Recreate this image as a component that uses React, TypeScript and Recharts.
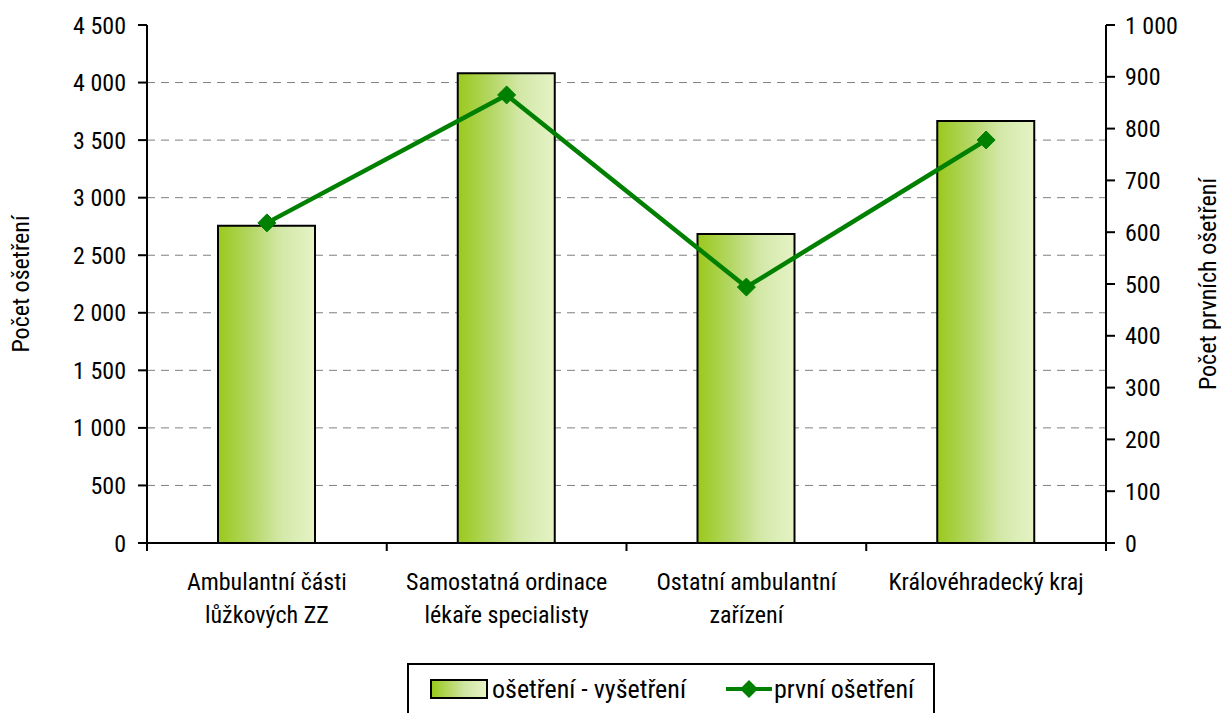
import React from "react";
import {
  Bar,
  CartesianGrid,
  ComposedChart,
  Legend,
  Line,
  XAxis,
  YAxis,
} from "recharts";

const categories = [
  "Ambulantní části\nlůžkových ZZ",
  "Samostatná ordinace\nlékaře specialisty",
  "Ostatní ambulantní\nzařízení",
  "Královéhradecký kraj",
];
const treatments = [2755, 4080, 2685, 3665];
const firstTreatments = [618, 865, 494, 778];
const leftTicks = [0, 500, 1000, 1500, 2000, 2500, 3000, 3500, 4000, 4500];
const rightTicks = [0, 100, 200, 300, 400, 500, 600, 700, 800, 900, 1000];

const data = categories.map((name, i) => ({
  name,
  treatments: treatments[i],
  first: firstTreatments[i],
}));

const FONT = "'Liberation Sans Narrow', 'Arial Narrow', 'Roboto Condensed', 'Liberation Sans', Arial, sans-serif";
const LINE_GREEN = "#008000";

const fmt = (v: number) => String(v).replace(/\B(?=(\d{3})+(?!\d))/g, " ");

function CategoryTick(props: any) {
  const { x, y, payload, index, visibleTicksCount } = props;
  const half = payload.offset ?? 0;
  const lines = String(payload.value).split("\n");
  return (
    <g>
      <line x1={x - half} x2={x - half} y1={y - 8} y2={y} stroke="#000" strokeWidth={2} />
      {index === visibleTicksCount - 1 && (
        <line x1={x + half} x2={x + half} y1={y - 8} y2={y} stroke="#000" strokeWidth={2} />
      )}
      {lines.map((l, i) => (
        <text key={i} x={x} y={y + 39 + i * 33} textAnchor="middle" fontSize={24} fill="#000" fontFamily={FONT}>
          {l}
        </text>
      ))}
    </g>
  );
}

function Diamond(props: any) {
  const { cx, cy } = props;
  if (cx == null || cy == null) return null;
  const r = 9;
  return (
    <path
      d={`M${cx},${cy - r}L${cx + r},${cy}L${cx},${cy + r}L${cx - r},${cy}Z`}
      fill={LINE_GREEN}
      stroke={LINE_GREEN}
    />
  );
}

function LegendBox() {
  return (
    <div
      style={{
        position: "absolute",
        left: 407,
        top: 0,
        width: 528,
        height: 50,
        border: "2px solid #000",
        borderBottom: "none",
        boxSizing: "border-box",
        fontFamily: FONT,
        fontSize: 26,
        color: "#000",
        display: "flex",
        alignItems: "center",
        paddingLeft: 21,
      }}
    >
      <span
        style={{
          display: "inline-block",
          width: 54,
          height: 16,
          border: "2px solid #000",
          background: "linear-gradient(to right, #9ac91c, #cfe5a2 60%, #e6f3c6)",
          marginRight: 4,
        }}
      />
      <span>ošetření - vyšetření</span>
      <svg width={50} height={20} style={{ marginLeft: 38 }}>
        <line x1={2} x2={48} y1={10} y2={10} stroke={LINE_GREEN} strokeWidth={4} />
        <path d="M25,1L34,10L25,19L16,10Z" fill={LINE_GREEN} />
      </svg>
      <span>první ošetření</span>
    </div>
  );
}

export default function App() {
  return (
    <div style={{ position: "absolute", left: 0, top: 0, background: "#fff" }}>
      <ComposedChart
        width={1221}
        height={713}
        data={data}
        margin={{ top: 25, right: 0, left: 0, bottom: 0 }}
        barCategoryGap={0}
      >
        <defs>
          <linearGradient id="barGrad" x1="0" y1="0" x2="1" y2="0">
            <stop offset="0%" stopColor="#9ac91c" />
            <stop offset="35%" stopColor="#b5d766" />
            <stop offset="65%" stopColor="#d3e8a8" />
            <stop offset="100%" stopColor="#e6f3c6" />
          </linearGradient>
        </defs>
        <CartesianGrid
          vertical={false}
          stroke="#7f7f7f"
          strokeDasharray="8 6"
          yAxisId="left"
          horizontalValues={leftTicks.filter((t) => t > 0 && t < 4500)}
        />
        <XAxis
          dataKey="name"
          height={120}
          axisLine={{ stroke: "#000", strokeWidth: 2 }}
          tickLine={false}
          tick={<CategoryTick />}
          interval={0}
        />
        <YAxis
          yAxisId="left"
          width={147}
          domain={[0, 4500]}
          ticks={leftTicks}
          tickFormatter={fmt}
          axisLine={{ stroke: "#000", strokeWidth: 2 }}
          tickLine={{ stroke: "#000", strokeWidth: 2 }}
          tickSize={9}
          tickMargin={12}
          tick={{ fill: "#000", fontSize: 24, fontFamily: FONT }}
          label={({ viewBox }: any) => (
            <text
              x={viewBox.x + 29}
              y={viewBox.y + viewBox.height / 2}
              transform={`rotate(-90 ${viewBox.x + 29} ${viewBox.y + viewBox.height / 2})`}
              textAnchor="middle"
              fontSize={24}
              fontFamily={FONT}
              fill="#000"
            >
              Počet ošetření
            </text>
          )}
        />
        <YAxis
          yAxisId="right"
          orientation="right"
          width={115}
          domain={[0, 1000]}
          ticks={rightTicks}
          tickFormatter={fmt}
          axisLine={{ stroke: "#000", strokeWidth: 2 }}
          tickLine={{ stroke: "#000", strokeWidth: 2 }}
          tickSize={9}
          tickMargin={10}
          tick={{ fill: "#000", fontSize: 24, fontFamily: FONT, textAnchor: "start" }}
          label={({ viewBox }: any) => (
            <text
              x={viewBox.x + 110}
              y={viewBox.y + viewBox.height / 2}
              transform={`rotate(-90 ${viewBox.x + 110} ${viewBox.y + viewBox.height / 2})`}
              textAnchor="middle"
              fontSize={24}
              fontFamily={FONT}
              fill="#000"
            >
              Počet prvních ošetření
            </text>
          )}
        />
        <Legend verticalAlign="bottom" height={50} content={() => <LegendBox />} wrapperStyle={{ left: 0, width: 1221 }} />
        <Bar
          yAxisId="left"
          dataKey="treatments"
          name="ošetření - vyšetření"
          barSize={97}
          fill="url(#barGrad)"
          stroke="#000"
          strokeWidth={2}
          isAnimationActive={false}
        />
        <Line
          yAxisId="right"
          dataKey="first"
          name="první ošetření"
          stroke={LINE_GREEN}
          strokeWidth={4.5}
          dot={<Diamond />}
          activeDot={false}
          isAnimationActive={false}
        />
      </ComposedChart>
    </div>
  );
}
